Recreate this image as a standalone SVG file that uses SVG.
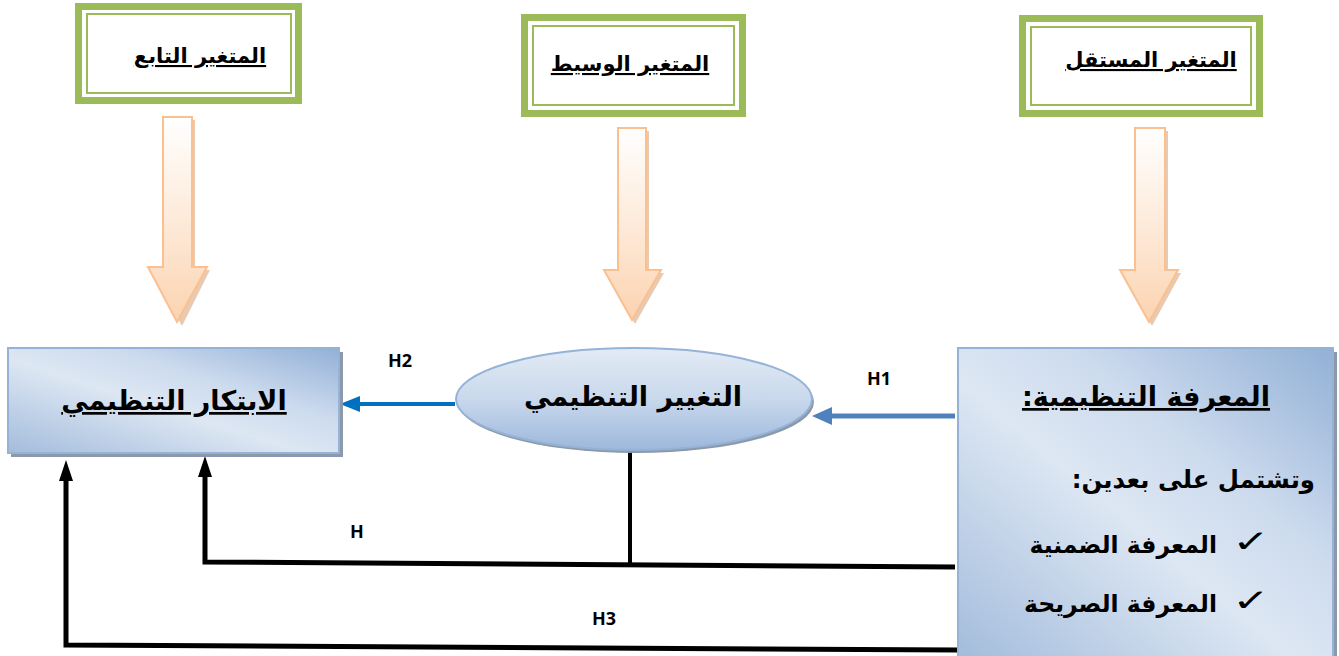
<svg xmlns="http://www.w3.org/2000/svg" width="1339" height="656" viewBox="0 0 1339 656">
<style>
.frame{fill:#fff;stroke:#9bbb59;stroke-width:7}
.inner{fill:none;stroke:#9bbb59;stroke-width:2}
.ttl{font-family:"DejaVu Sans",sans-serif;font-weight:bold;font-size:21px;fill:#000;text-anchor:middle;direction:rtl;text-decoration:underline}
.big{font-family:"DejaVu Sans",sans-serif;font-weight:bold;font-size:27px;fill:#000;direction:rtl}
.lbl{font-family:"Open Sans","Liberation Sans",sans-serif;font-weight:bold;font-size:18px;fill:#000;text-anchor:middle}
.chk{font-family:"DejaVu Sans",sans-serif;font-size:28px;fill:#000;text-anchor:middle}
.parr{fill:url(#peach);stroke:#fac090;stroke-width:2}
.pshadow{fill:#d9a77f;opacity:0.6}
.bk{fill:none;stroke:#000;stroke-width:5}
</style>
<defs>
<linearGradient id="peach" x1="0" y1="0" x2="0" y2="1">
<stop offset="0" stop-color="#ffffff"/>
<stop offset="0.6" stop-color="#fde6d2"/>
<stop offset="1" stop-color="#fbd3b0"/>
</linearGradient>
<linearGradient id="boxg" x1="0" y1="1" x2="1" y2="0">
<stop offset="0" stop-color="#a3bcdc"/>
<stop offset="0.45" stop-color="#dde7f3"/>
<stop offset="0.65" stop-color="#cddbee"/>
<stop offset="1" stop-color="#92b0d6"/>
</linearGradient>
<linearGradient id="ellg" x1="0" y1="0" x2="0" y2="1">
<stop offset="0" stop-color="#e3ebf5"/>
<stop offset="0.5" stop-color="#c9d8ec"/>
<stop offset="1" stop-color="#9db8dc"/>
</linearGradient>
</defs>

<g id="dependent-title">
<rect class="frame" x="78.5" y="6.5" width="220" height="94"/>
<rect class="inner" x="87" y="14" width="204" height="79"/>
<text class="ttl" x="200" y="63">المتغير  التابع</text>
</g>
<g id="mediator-title">
<rect class="frame" x="524.5" y="17.5" width="218" height="96"/>
<rect class="inner" x="533" y="26" width="201" height="79"/>
<text class="ttl" x="630" y="71">المتغير  الوسيط</text>
</g>
<g id="independent-title">
<rect class="frame" x="1022.5" y="18.5" width="237" height="95"/>
<rect class="inner" x="1031" y="27" width="220" height="78"/>
<text class="ttl" x="1151" y="67">المتغير  المستقل</text>
</g>

<g id="arrow-dependent">
<polygon class="pshadow" points="166,120 195,120 195,270 210,270 182,326 151,270 166,270"/>
<polygon class="parr" points="163,117 192,117 192,267 207,267 177,322 148,267 163,267"/>
</g>
<g id="arrow-mediator">
<polygon class="pshadow" points="621,131 649,131 649,273 664,273 635,324 606,273 621,273"/>
<polygon class="parr" points="618,128 646,128 646,270 661,270 632,320 604,270 618,270"/>
</g>
<g id="arrow-independent">
<polygon class="pshadow" points="1138,131 1168,131 1168,273 1181,273 1152,326 1123,273 1138,273"/>
<polygon class="parr" points="1135,128 1165,128 1165,270 1178,270 1149,322 1120,270 1135,270"/>
</g>

<g id="connectors">
<polyline class="bk" points="955,567 205,562 205,475"/>
<polygon points="205,456 198,477 212,477" fill="#000"/>
<line x1="630" y1="452" x2="630" y2="563" stroke="#000" stroke-width="4"/>
<polyline class="bk" points="958,650 66,645 66,480"/>
<polygon points="66,460 59,481 73,481" fill="#000"/>
<line x1="455" y1="404" x2="358" y2="404" stroke="#0070c0" stroke-width="4"/>
<polygon points="340,404 360,396 360,412" fill="#0070c0"/>
<line x1="955" y1="416" x2="830" y2="416" stroke="#4f81bd" stroke-width="5"/>
<polygon points="812,416 832,407 832,425" fill="#4f81bd"/>
<text class="lbl" x="400" y="367">H2</text>
<text class="lbl" x="879" y="385">H1</text>
<text class="lbl" x="357" y="538">H</text>
<text class="lbl" x="604" y="625">H3</text>
</g>

<g id="innovation">
<rect x="11" y="352" width="332" height="105" fill="#8c99aa"/>
<rect x="8" y="348" width="331" height="105" fill="url(#boxg)" stroke="#95b3d7" stroke-width="2"/>
<text class="big" x="174" y="410" text-anchor="middle" text-decoration="underline">الابتكار  التنظيمي</text>
</g>

<g id="change">
<ellipse cx="636" cy="402" rx="178" ry="51" fill="#8c99aa"/>
<ellipse cx="634" cy="399" rx="178" ry="51" fill="url(#ellg)" stroke="#95b3d7" stroke-width="2"/>
<text class="big" x="633" y="406" text-anchor="middle">التغيير  التنظيمي</text>
</g>

<g id="knowledge">
<rect x="961" y="352" width="376" height="310" fill="#8c99aa"/>
<rect x="958" y="348" width="375" height="310" fill="url(#boxg)" stroke="#95b3d7" stroke-width="2"/>
<text class="big" x="1270" y="406" text-anchor="start" text-decoration="underline">المعرفة التنظيمية:</text>
<text class="big" x="1315" y="488" text-anchor="start" style="font-size:24.4px">وتشتمل على بعدين:</text>
<text class="chk" transform="translate(1251,552) scale(1.6,1.1)">✓</text>
<text class="big" x="1217" y="553" text-anchor="start" style="font-size:23.5px">المعرفة الضمنية</text>
<text class="chk" transform="translate(1251,611) scale(1.6,1.1)">✓</text>
<text class="big" x="1217" y="612" text-anchor="start" style="font-size:23.5px">المعرفة الصريحة</text>
</g>
</svg>
